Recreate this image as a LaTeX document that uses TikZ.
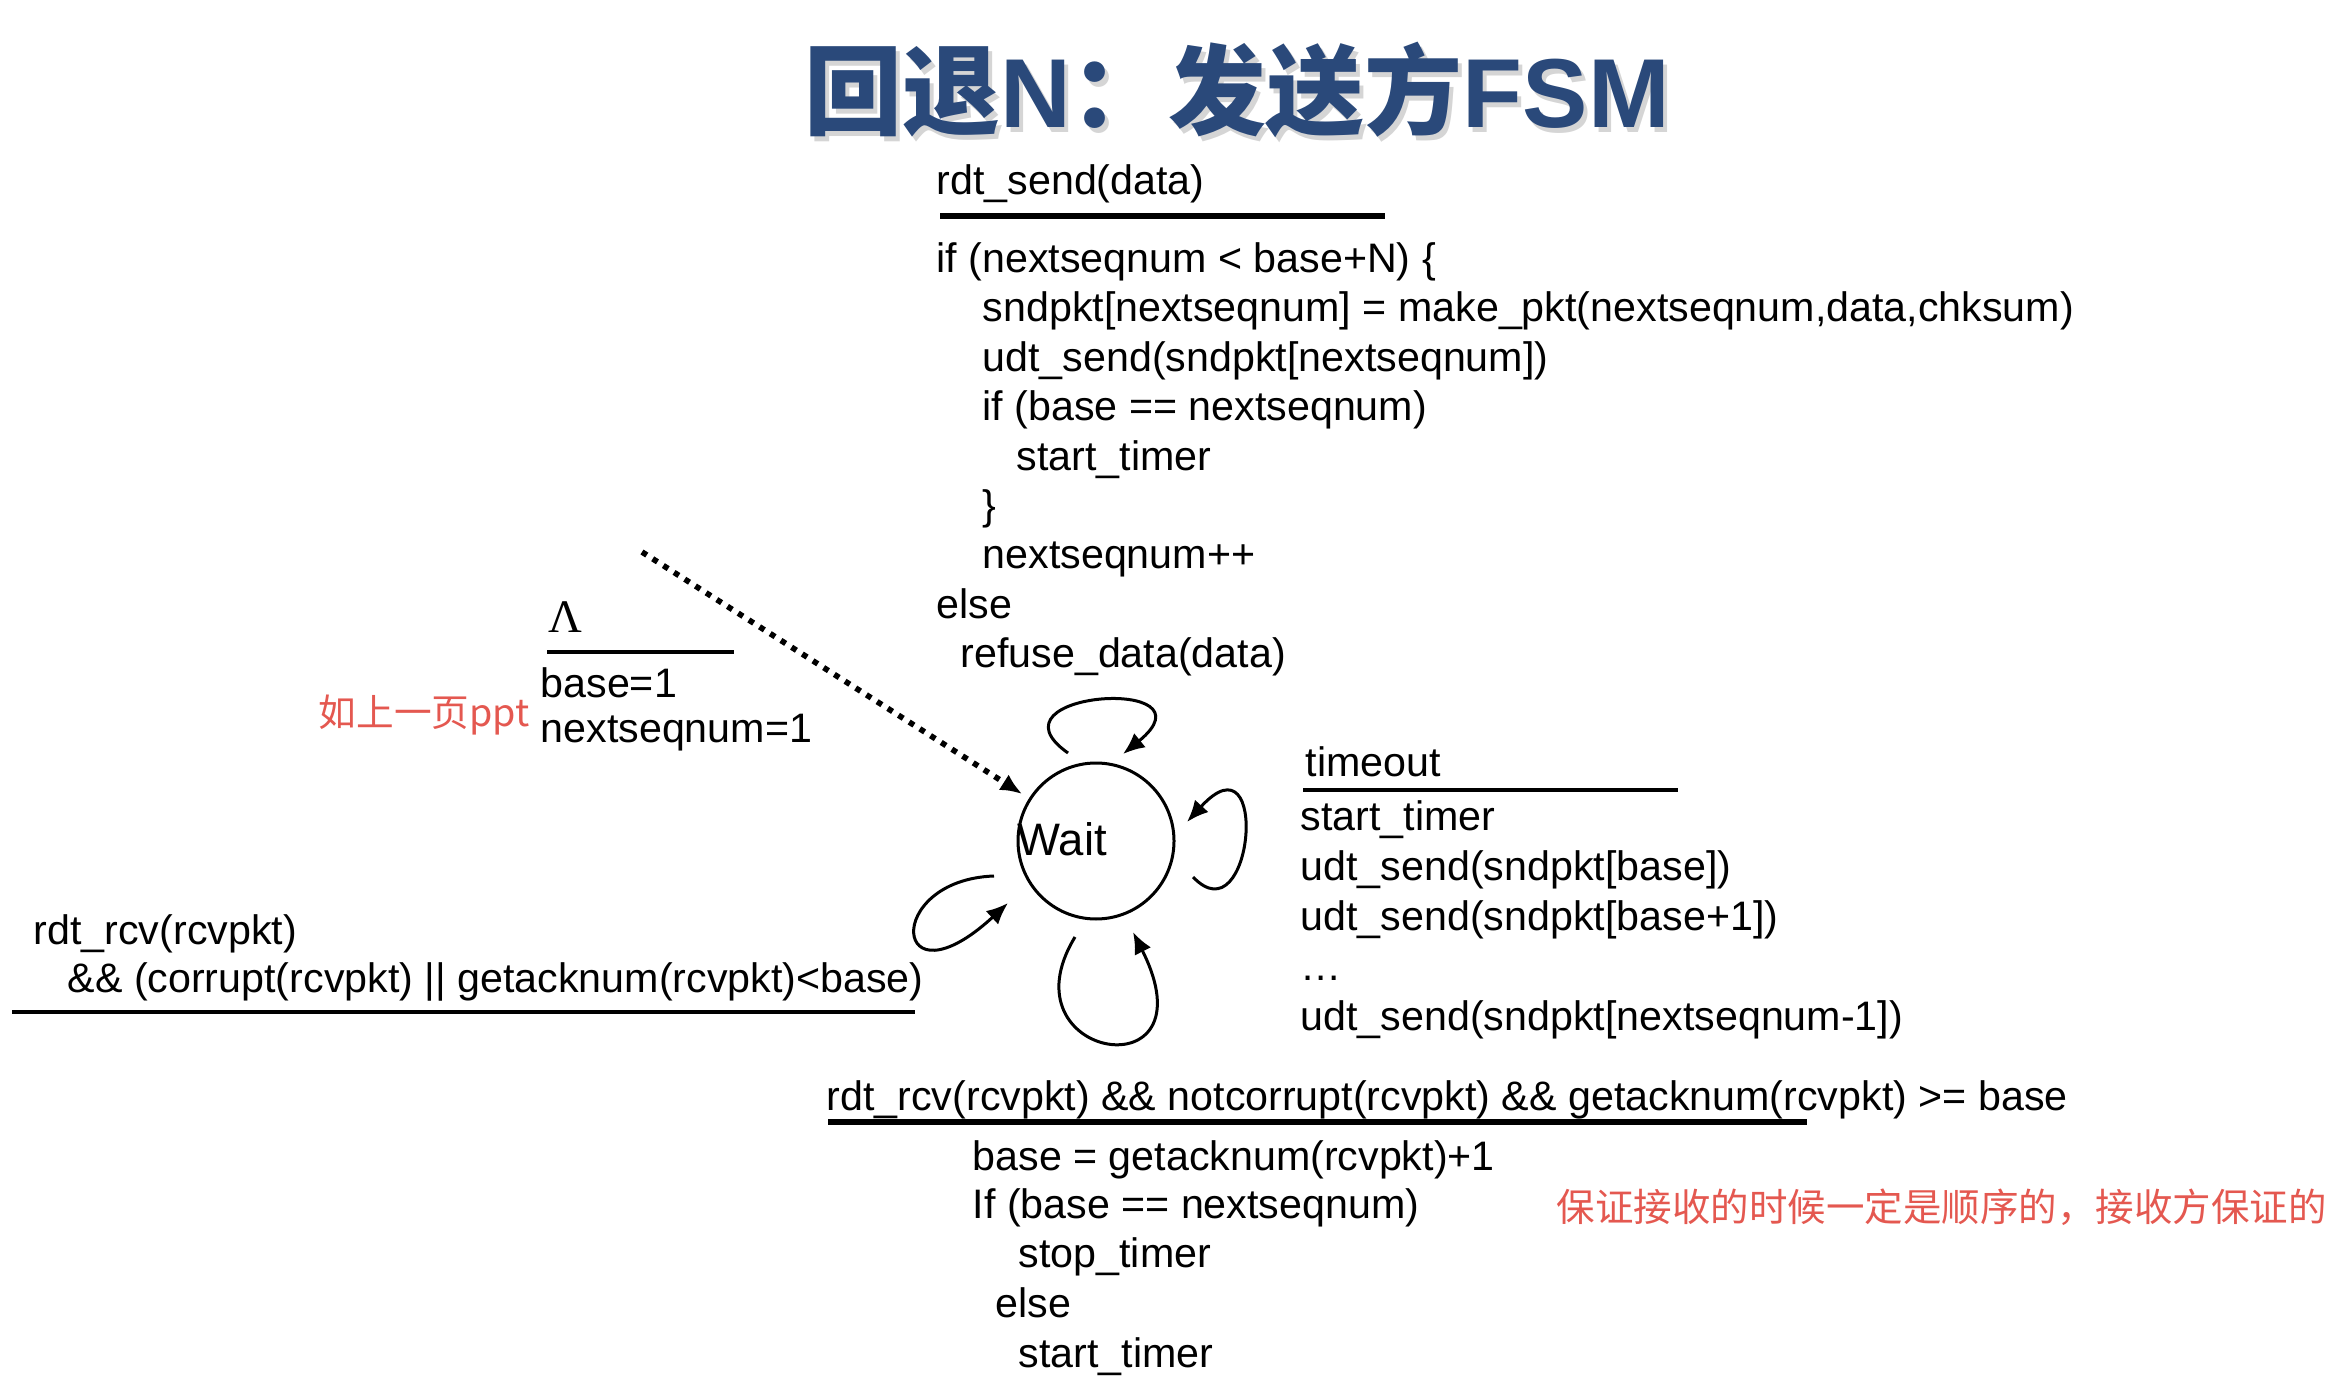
\documentclass[tikz,border=0pt]{standalone}
\usepackage{fontspec}
\setmainfont{Liberation Sans}
\newfontfamily\cjk{Noto Sans CJK SC}
\newfontfamily\serifgk{Liberation Serif}
\usetikzlibrary{arrows.meta,calc}
\definecolor{titleblue}{RGB}{42,73,122}
\definecolor{notered}{RGB}{228,88,80}
\newcommand{\mytitletext}{{\cjk\bfseries 回退}{\bfseries N}{\cjk\bfseries ：发送方}{\bfseries FSM}}
\begin{document}
\begin{tikzpicture}[x=0.3pt,y=-0.3pt,
  code/.style={font=\fontsize{12.36pt}{14.8pt}\selectfont, inner sep=0pt, anchor=base west},
  note/.style={font=\cjk\fontsize{11.55pt}{14pt}\selectfont, text=notered, inner sep=0pt, anchor=base west},
  bar/.style={line width=1.3pt},
  selfloop/.style={line width=0.9pt, -{Latex[length=6.5pt,width=5.5pt]}},
  titlestyle/.style={font=\fontsize{29.4pt}{32pt}\selectfont, inner sep=0pt, anchor=base}
]
\useasboundingbox (0,0) rectangle (2340,1392);
% title
\node[titlestyle, text=black!30, opacity=0.55] (titleshadow) at (1241,133) {\mytitletext};
\node[titlestyle, text=titleblue] (title) at (1237,128) {\mytitletext};

% rdt_send block
\node[code] (r1) at (936,195) {rdt\_send(data)};
\draw[line width=2pt] (940,216) -- (1385,216);
\node[code] (c1) at (936,273) {if (nextseqnum < base+N) \{};
\node[code] (c2) at (982,322) {sndpkt[nextseqnum] = make\_pkt(nextseqnum,data,chksum)};
\node[code] (c3) at (982,372) {udt\_send(sndpkt[nextseqnum])};
\node[code] (c4) at (982,421) {if (base == nextseqnum)};
\node[code] (c5) at (1016,471) {start\_timer};
\node[code] (c6) at (982,520) {\}};
\node[code] (c7) at (982,569) {nextseqnum++};
\node[code] (c8) at (936,619) {else};
\node[code] (c9) at (960,668) {refuse\_data(data)};

% init block
\node[code, font=\serifgk\fontsize{14pt}{16pt}\selectfont] (lam) at (548,633) {Λ};
\draw[bar] (547,652) -- (734,652);
\node[code] (i1) at (540,697) {base=1};
\node[code] (i2) at (540,743) {nextseqnum=1};
\node[note, font=\cjk\fontsize{11.3pt}{14pt}\selectfont] (n1) at (318,727) {如上一页ppt};

% state
\node[circle, draw, line width=0.9pt, minimum size=46.8pt, inner sep=0pt] (w) at (1096,841) {};
\node[code, font=\fontsize{13.65pt}{16pt}\selectfont] (wl) at (1017,855) {Wait};

% initial dotted arrow
\coordinate (dstart) at (642,552);
\draw[line width=1.7pt, dash pattern=on 1.7pt off 2.1pt, -{Latex[length=6.5pt,width=5.5pt]}, shorten >=2.4pt] (dstart) -- (w);

% self loops
\draw[selfloop] ($(w.center)+(-28,-88)$) .. controls ($(w.center)+(-116,-150)$) and ($(w.center)+(124,-166)$) .. ($(w.center)+(27,-87)$);
\draw[selfloop] ($(w.center)+(97,36)$) .. controls ($(w.center)+(157,99)$) and ($(w.center)+(175,-111)$) .. ($(w.center)+(91,-19)$);
\draw[selfloop] ($(w.center)+(-21,96)$) .. controls ($(w.center)+(-96,219)$) and ($(w.center)+(119,254)$) .. ($(w.center)+(37,91)$);
\draw[selfloop] ($(w.center)+(-102,35)$) .. controls ($(w.center)+(-214,39)$) and ($(w.center)+(-204,169)$) .. ($(w.center)+(-88,62)$);

% timeout block
\node[code] (t0) at (1305,777) {timeout};
\draw[bar] (1303,790) -- (1678,790);
\node[code] (t1) at (1300,830) {start\_timer};
\node[code] (t2) at (1300,880) {udt\_send(sndpkt[base])};
\node[code] (t3) at (1300,930) {udt\_send(sndpkt[base+1])};
\node[code] (t4) at (1300,980) {…};
\node[code] (t5) at (1300,1030) {udt\_send(sndpkt[nextseqnum-1])};

% left block
\node[code] (l1) at (33,944) {rdt\_rcv(rcvpkt)};
\node[code] (l2) at (67,992) {\&\& (corrupt(rcvpkt) || getacknum(rcvpkt)<base)};
\draw[bar] (12,1012) -- (915,1012);

% bottom block
\node[code] (b0) at (826,1110) {rdt\_rcv(rcvpkt) \&\& notcorrupt(rcvpkt) \&\& getacknum(rcvpkt) >= base};
\draw[line width=1.7pt] (828,1122) -- (1807,1122);
\node[code] (b1) at (972,1170) {base = getacknum(rcvpkt)+1};
\node[code] (b2) at (972,1218) {If (base == nextseqnum)};
\node[code] (b3) at (1018,1267) {stop\_timer};
\node[code] (b4) at (995,1317) {else};
\node[code] (b5) at (1018,1367) {start\_timer};
\node[note] (n2) at (1556,1221) {保证接收的时候一定是顺序的，接收方保证的};
\end{tikzpicture}
\end{document}
